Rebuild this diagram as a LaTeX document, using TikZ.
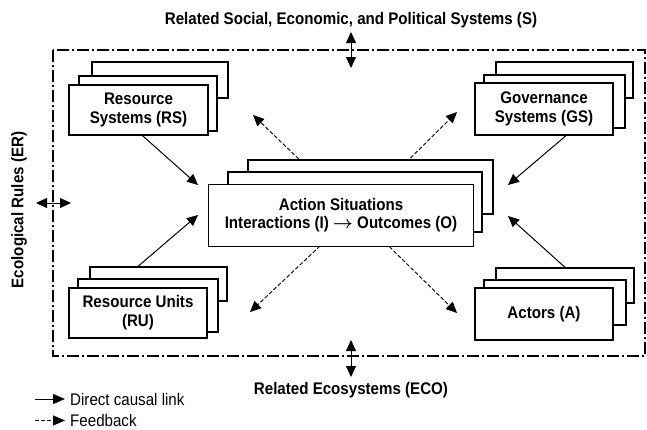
\documentclass[tikz,border=0pt]{standalone}
\usepackage{fontspec}
\setmainfont{Liberation Sans}[FakeStretch=0.9]
\usepackage{tikz}
\usetikzlibrary{
    calc,
    arrows.meta,
    positioning
}
\pgfdeclarelayer{background}
\pgfsetlayers{background,main}
\tikzset{
    box/.style={draw, fill=white, line width=1.3pt, inner sep=0pt, align=center,
        font=\fontsize{16.8}{19}\selectfont\bfseries},
    causal/.style={line width=1pt, -{Triangle[length=11pt,width=10pt]}},
    feedback/.style={line width=0.9pt, dash pattern=on 4pt off 2pt,
        -{Triangle[length=11pt,width=10pt]}},
    keytip/.style={-{Triangle[length=12pt,width=10pt]}, shorten >=5pt},
    twoway/.style={line width=1pt, {Triangle[length=11pt,width=10pt]}-{Triangle[length=11pt,width=10pt]}},
    label/.style={font=\fontsize{16.8}{18}\selectfont\bfseries, inner sep=0pt},
    legend/.style={font=\fontsize{16.8}{18}\selectfont, inner sep=0pt, anchor=west}
}
\begin{document}
\begin{tikzpicture}[x=1pt,y=-1pt]
    \useasboundingbox (0,0) rectangle (647,429);

    % outer frame
    \draw[line width=1.2pt, dash pattern=on 12pt off 3pt on 2pt off 3pt] (53,50) rectangle (645,356);

    % stacks, back to front
    \node[box, minimum width=136pt, minimum height=36pt] (rs3) at (160,80) {};
    \node[box, minimum width=138pt, minimum height=55pt] (rs2) at (148,103.5) {};
    \node[box, minimum width=139pt, minimum height=50pt] (rs) at (138.5,110) {Resource\\Systems (RS)};

    \node[box, minimum width=137pt, minimum height=36pt] (gs3) at (564.5,80) {};
    \node[box, minimum width=141pt, minimum height=53pt] (gs2) at (554.5,101.5) {};
    \node[box, minimum width=138pt, minimum height=52pt] (gs) at (544,109) {Governance\\Systems (GS)};

    \node[box, minimum width=137pt, minimum height=34pt] (ru3) at (158.5,284) {};
    \node[box, minimum width=140pt, minimum height=53pt] (ru2) at (148,305.5) {};
    \node[box, minimum width=138pt, minimum height=50pt] (ru) at (138,313) {Resource Units\\(RU)};

    \node[box, minimum width=138pt, minimum height=35pt] (ac3) at (565,285.5) {};
    \node[box, minimum width=142pt, minimum height=45pt] (ac2) at (555,302.5) {};
    \node[box, minimum width=138pt, minimum height=52pt] (ac) at (544,314) {Actors (A)};

    \node[box, minimum width=245pt, minimum height=54pt] (as3) at (370.5,187) {};
    \node[box, minimum width=254pt, minimum height=60pt] (as2) at (355,202) {};
    \node[box, minimum width=265pt, minimum height=62pt, font=\fontsize{16.8}{18}\selectfont\bfseries] (as) at (341,215.5)
        {Action Situations\\Interactions (I) {\boldmath$\rightarrow$} Outcomes (O)};

    % feedback, behind the action situations
    \coordinate (cross) at (355,213);
    \coordinate (fbtl) at (253,115);
    \coordinate (fbtr) at (457,112);
    \coordinate (fbbl) at (250,312);
    \coordinate (fbbr) at (457,313);
    \begin{pgfonlayer}{background}
        \draw[feedback] (cross) -- (fbtl);
        \draw[feedback] (cross) -- (fbtr);
        \draw[feedback] (cross) -- (fbbl);
        \draw[feedback] (cross) -- (fbbr);
    \end{pgfonlayer}

    % direct causal links
    \coordinate (inrs) at (198,185);
    \coordinate (inru) at (198,215);
    \coordinate (ings) at (508,185);
    \coordinate (inac) at (508,216);
    \draw[causal] ($(rs.south)+(4,0)$) -- (inrs);
    \draw[causal] (ru.north |- ru3.north) -- (inru);
    \draw[causal] ($(gs.south)+(22,0)$) -- (ings);
    \draw[causal] (ac3.north) -- (inac);

    % surrounding settings
    \node[label] (sps) at (351,20) {Related Social, Economic, and Political Systems (S)};
    \node[label] (eco) at (351,390) {Related Ecosystems (ECO)};
    \node[label, rotate=90] (er) at (19,210) {Ecological Rules (ER)};
    \coordinate (st) at (351,32);
    \coordinate (sb) at (351,68);
    \coordinate (et) at (351,340);
    \coordinate (eb) at (351,377);
    \coordinate (el) at (36,203);
    \coordinate (er2) at (71,203);
    \draw[twoway] (st) -- (sb);
    \draw[twoway] (et) -- (eb);
    \draw[twoway] (el) -- (er2);

    % legend
    \node[legend] (lgc) at (70,399) {Direct causal link};
    \node[legend] (lgf) at (70,420.5) {Feedback};
    \coordinate (lgcs) at (35,399);
    \coordinate (lgfs) at (35,420.5);
    \draw[causal, keytip] (lgcs) -- (lgc.west);
    \draw[feedback, keytip] (lgfs) -- (lgf.west);
\end{tikzpicture}
\end{document}
